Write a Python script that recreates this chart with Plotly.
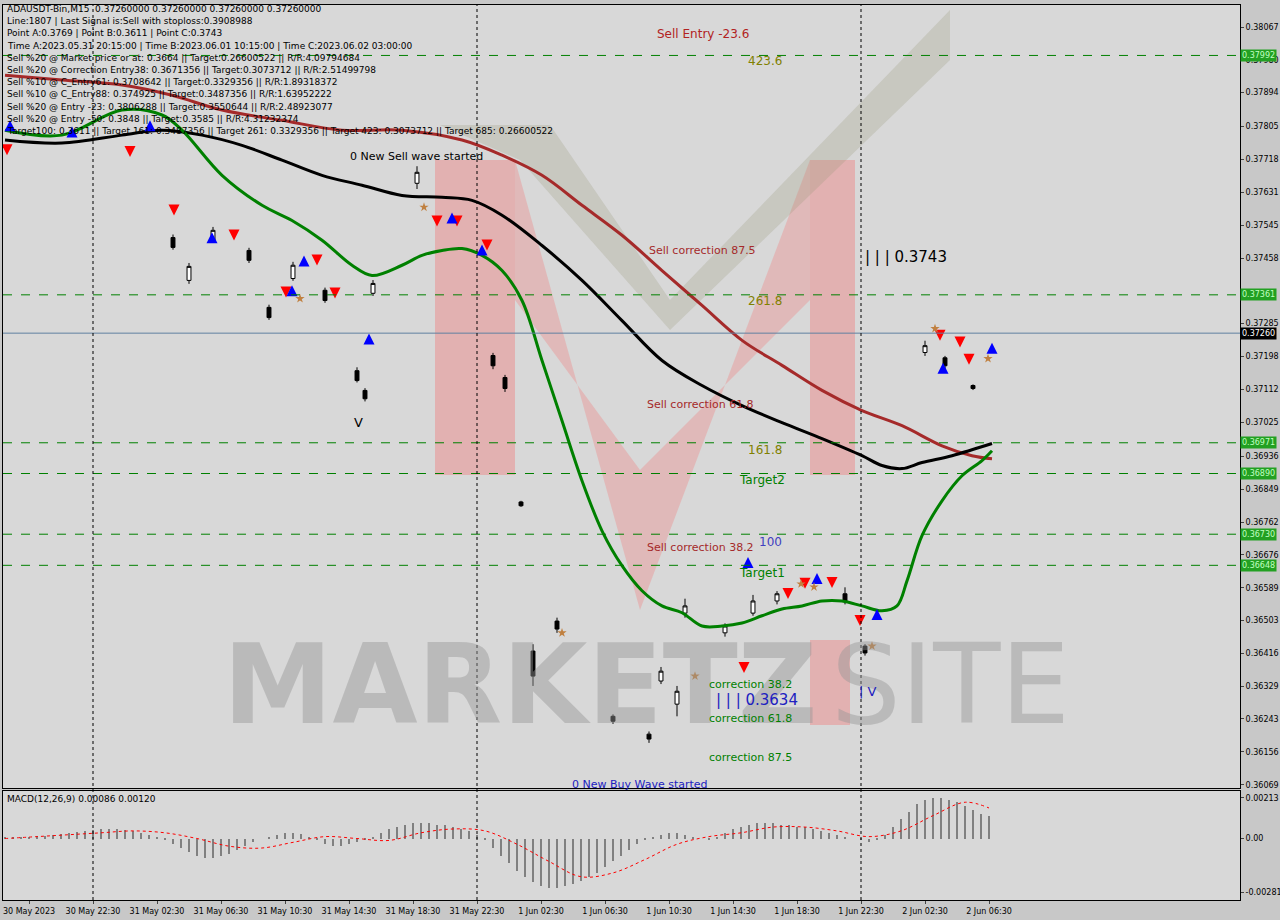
import plotly.graph_objects as go

# ---------------- data ----------------
green_x = [0,14.25,29.25,39.25,44.25,54.25,64.25,71.75,79.25,86.75,91.75,99.25,104.25,109.25,114.25,119.25,124.25,129.25,134.25,139.25,144.25,149.25,154.25,159.25,164.25,169.25,174.25,179.25,184.25,189.25,194.25,199.25,204.25,209.25,214.25,219.25,223,225.5,229.25,234.25,239.25,244.25,246.75]
green_y = [0.37795,0.37782,0.37848,0.37835,0.37795,0.37676,0.37597,0.37557,0.37505,0.37439,0.37412,0.37439,0.37465,0.37478,0.37483,0.37465,0.37425,0.37346,0.37188,0.37029,0.36871,0.36739,0.36647,0.36581,0.36541,0.36523,0.36488,0.36488,0.36496,0.36515,0.36533,0.36541,0.36554,0.36554,0.36541,0.36528,0.36541,0.36607,0.36726,0.36818,0.36884,0.36924,0.36950]
black_x = [0,14.25,29.25,39.25,49.25,59.25,69.25,79.25,89.25,99.25,109.25,116.75,124.25,134.25,144.25,154.25,164.25,174.25,184.25,194.25,204.25,214.25,219.25,224.25,229.25,236.75,246.75]
black_y = [0.37769,0.37761,0.37782,0.37795,0.37782,0.37755,0.37716,0.37676,0.37650,0.37623,0.37618,0.37610,0.37571,0.37491,0.37399,0.37293,0.37188,0.37122,0.37069,0.37024,0.36982,0.36937,0.36911,0.36903,0.36919,0.36937,0.36969]
brown_x = [0,14.25,29.25,41.75,54.25,69.25,84.25,99.25,114.25,124.25,134.25,144.25,154.25,164.25,174.25,184.25,194.25,204.25,214.25,224.25,234.25,241.75,246.75]
brown_y = [0.37940,0.37927,0.37914,0.37887,0.37848,0.37821,0.37795,0.37795,0.37769,0.37729,0.37676,0.37597,0.37518,0.37425,0.37333,0.37241,0.37175,0.37109,0.37056,0.37016,0.36963,0.36937,0.36929]

c_x = [42,46,52,61,66,72,80,88,90,92,103,122,125,129,132,138,152,161,164,168,170,180,187,193,210,215,230,235,242]
c_open = [0.37512,0.37399,0.37504,0.37478,0.37328,0.37404,0.37373,0.37161,0.37109,0.37365,0.37655,0.37201,0.37143,0.36815,0.36422,0.36501,0.36250,0.36203,0.36343,0.36282,0.36522,0.36470,0.36522,0.36554,0.36573,0.36435,0.37209,0.37195,0.37122]
c_close = [0.37486,0.37436,0.37531,0.37452,0.37301,0.37439,0.37346,0.37135,0.37087,0.37391,0.37684,0.37174,0.37114,0.36805,0.36356,0.36480,0.36237,0.36190,0.36369,0.36316,0.36541,0.36488,0.36554,0.36573,0.36554,0.36417,0.37227,0.37174,0.37114]
c_high = [0.37520,0.37445,0.37540,0.37485,0.37335,0.37448,0.37380,0.37170,0.37115,0.37400,0.37700,0.37208,0.37150,0.36818,0.36440,0.36510,0.36255,0.36210,0.36380,0.36330,0.36560,0.36495,0.36570,0.36580,0.36590,0.36440,0.37240,0.37200,0.37125]
c_low = [0.37480,0.37390,0.37498,0.37445,0.37295,0.37398,0.37340,0.37130,0.37080,0.37358,0.37640,0.37165,0.37105,0.36802,0.36330,0.36470,0.36230,0.36180,0.36335,0.36250,0.36510,0.36460,0.36515,0.36545,0.36545,0.36410,0.37200,0.37165,0.37110]

red_x = [0.5,31.25,42.25,57.25,70.25,78,82.5,108,113,120.5,184.75,195.75,200,206.75,213.75,233.75,238.75,241]
red_y = [0.37729,0.37724,0.37570,0.37504,0.37354,0.37438,0.37351,0.37541,0.37541,0.37478,0.36364,0.36559,0.36586,0.36588,0.36488,0.37240,0.37222,0.37177]
blue_x = [1.25,16.75,36.25,51.75,71.75,74.75,91,111.75,119.25,185.75,203,218,234.5,246.75]
blue_y = [0.37821,0.37805,0.37821,0.37526,0.37386,0.37465,0.37259,0.37578,0.37494,0.36670,0.36628,0.36533,0.37182,0.37235]
star_x = [104.75,73.75,172.5,199,202.25,232.5,245.75,216.75,139.25]
star_y = [0.37592,0.37351,0.36356,0.36599,0.36591,0.37272,0.37193,0.36435,0.36470]

levels = [0.37992,0.37361,0.36971,0.36890,0.36730,0.36648]
current_price = 0.37260
y_ticks = [0.38067,0.37980,0.37894,0.37805,0.37718,0.37631,0.37545,0.37458,0.37285,0.37198,0.37112,0.37025,0.36936,0.36849,0.36762,0.36676,0.36589,0.36503,0.36416,0.36329,0.36243,0.36156,0.36069]
x_tick_bars = [6,22,38,54,70,86,102,118,134,150,166,182,198,214,230,246]
x_tick_labels = ["30 May 2023","30 May 22:30","31 May 02:30","31 May 06:30","31 May 10:30","31 May 14:30","31 May 18:30","31 May 22:30","1 Jun 02:30","1 Jun 06:30","1 Jun 10:30","1 Jun 14:30","1 Jun 18:30","1 Jun 22:30","2 Jun 02:30","2 Jun 06:30"]
sep_bars = [22,118,214]

macd_hist = [0.00005,0.00008,0.0001,0.0001,0.00012,0.00015,0.0002,0.00025,0.0003,0.00035,
 0.0004,0.00045,0.0005,0.0005,0.00048,0.00045,0.0004,0.0003,0.0002,0.0001,
 -0.0001,-0.0003,-0.0005,-0.0007,-0.0009,-0.001,-0.001,-0.0009,-0.0008,-0.0006,
 -0.0004,-0.0002,0.0,0.0001,0.0002,0.0003,0.0003,0.00025,0.0001,-0.0001,
 -0.0003,-0.0004,-0.0004,-0.0003,-0.0002,-0.0001,0.0001,0.0003,0.0005,0.0006,
 0.0007,0.0008,0.0008,0.0008,0.0007,0.0007,0.0006,0.0005,0.0004,0.0002,
 -0.0001,-0.0005,-0.0009,-0.0013,-0.0017,-0.002,-0.0023,-0.0025,-0.0026,-0.0026,
 -0.0025,-0.0024,-0.0022,-0.002,-0.0018,-0.0015,-0.0012,-0.0009,-0.0006,-0.0003,
 -0.0001,0.0001,0.0002,0.0003,0.0003,0.0002,0.0001,0.0,-0.0001,0.0001,
 0.0003,0.0005,0.0006,0.0007,0.0008,0.0008,0.0008,0.0007,0.0007,0.0006,
 0.0006,0.0005,0.0004,0.0003,0.0002,0.0001,0.0,-0.0001,-0.0002,-0.0001,
 0.0002,0.0006,0.001,0.0014,0.0018,0.002,0.0021,0.0021,0.002,0.0019,
 0.0017,0.0015,0.0013,0.0012]
macd_x = list(range(0, 248, 2))
sig_x = [0,8,16,24,32,40,48,56,64,72,80,88,96,104,112,120,128,136,144,152,160,168,176,184,192,200,208,216,224,232,240,246]
sig_y = [0.0,0.0001,0.0002,0.0003,0.0004,0.0003,0.0,-0.0004,-0.0005,-0.0002,0.0001,0.0,-0.0001,0.0003,0.0005,0.0004,-0.0003,-0.0012,-0.002,-0.0018,-0.0011,-0.0003,0.0001,0.0003,0.0006,0.0006,0.0004,0.0001,0.0004,0.0012,0.0019,0.0016]

header = ["ADAUSDT-Bin,M15  0.37260000 0.37260000 0.37260000 0.37260000",
 "Line:1807 | Last Signal is:Sell with stoploss:0.3908988",
 "Point A:0.3769 | Point B:0.3611 | Point C:0.3743",
 "Time A:2023.05.31 20:15:00 | Time B:2023.06.01 10:15:00 | Time C:2023.06.02 03:00:00",
 "Sell %20 @ Market price or at: 0.3664 || Target:0.26600522 || R/R:4.09794684",
 "Sell %20 @ Correction Entry38: 0.3671356 || Target:0.3073712 || R/R:2.51499798",
 "Sell %10 @ C_Entry61: 0.3708642 || Target:0.3329356 || R/R:1.89318372",
 "Sell %10 @ C_Entry88: 0.374925 || Target:0.3487356 || R/R:1.63952222",
 "Sell %20 @ Entry -23: 0.3806288 || Target:0.3550644 || R/R:2.48923077",
 "Sell %20 @ Entry -50: 0.3848 || Target:0.3585 || R/R:4.31232374",
 "Target100: 0.3611 || Target 161: 0.3487356 || Target 261: 0.3329356 || Target 423: 0.3073712 || Target 685: 0.26600522"]

# ---------------- layout helpers ----------------
W, H = 1280, 920
L, R, T, B = 3, 40, 5, 20
def px(x, y):
    return (x - L) / (W - R - L), (H - B - y) / (H - T - B)

FONT = "DejaVu Sans"
fig = go.Figure()

fig.add_trace(go.Candlestick(x=c_x, open=c_open, high=c_high, low=c_low, close=c_close,
    increasing=dict(line=dict(color="black", width=1), fillcolor="white"),
    decreasing=dict(line=dict(color="black", width=1), fillcolor="black"),
    whiskerwidth=0, showlegend=False, xaxis="x", yaxis="y"))
fig.add_trace(go.Scatter(x=brown_x, y=brown_y, mode="lines", line=dict(color="#a52a2a", width=3, shape="spline"), showlegend=False))
fig.add_trace(go.Scatter(x=black_x, y=black_y, mode="lines", line=dict(color="black", width=3, shape="spline"), showlegend=False))
fig.add_trace(go.Scatter(x=green_x, y=green_y, mode="lines", line=dict(color="#008000", width=3, shape="spline"), showlegend=False))
fig.add_trace(go.Scatter(x=red_x, y=red_y, mode="markers", marker=dict(symbol="arrow-down", size=11, color="red"), showlegend=False))
fig.add_trace(go.Scatter(x=blue_x, y=blue_y, mode="markers", marker=dict(symbol="arrow-up", size=11, color="blue"), showlegend=False))
fig.add_trace(go.Scatter(x=star_x, y=star_y, mode="markers", marker=dict(symbol="star", size=7, color="#c08040"), showlegend=False))

fig.add_trace(go.Bar(x=macd_x, y=macd_hist, width=0.35, marker=dict(color="#808080", line=dict(width=0)), showlegend=False, xaxis="x2", yaxis="y2"))
fig.add_trace(go.Scatter(x=sig_x, y=sig_y, mode="lines", line=dict(color="red", width=1, dash="dot", shape="spline"), showlegend=False, xaxis="x2", yaxis="y2"))

shapes = []
def poly(points, color):
    path = "M " + " L ".join(f"{px(a,b)[0]},{px(a,b)[1]}" for a, b in points) + " Z"
    return dict(type="path", xref="paper", yref="paper", path=path, fillcolor=color, line=dict(width=0), layer="below")
shapes.append(poly([(435,160),(515,160),(515,475),(435,475)], "rgba(240,130,130,0.45)"))
shapes.append(poly([(810,160),(855,160),(855,475),(810,475)], "rgba(240,130,130,0.45)"))
shapes.append(poly([(515,160),(640,610),(810,160),(810,300),(640,470),(515,300)], "rgba(240,130,130,0.35)"))
shapes.append(poly([(440,125),(550,125),(670,300),(950,10),(950,60),(670,330),(520,160)], "rgba(150,150,120,0.25)"))
shapes.append(poly([(810,640),(850,640),(850,725),(810,725)], "rgba(240,130,130,0.45)"))
for lv in levels:
    shapes.append(dict(type="line", xref="paper", yref="y", x0=0, x1=1, y0=lv, y1=lv, line=dict(color="#008000", width=1, dash="dash")))
shapes.append(dict(type="line", xref="paper", yref="y", x0=0, x1=1, y0=current_price, y1=current_price, line=dict(color="#6080a0", width=1)))
for sb in sep_bars:
    shapes.append(dict(type="line", xref="x", yref="paper", x0=sb, x1=sb, y0=0, y1=1, line=dict(color="black", width=1, dash="dot")))

ann = []
def text(x, y, s, color="black", size=11, anchor="center"):
    a, b = px(x, y)
    ann.append(dict(xref="paper", yref="paper", x=a, y=b, text=s, showarrow=False, xanchor=anchor, yanchor="middle",
                    font=dict(family=FONT, size=size, color=color)))
text(520, 685, "<b>MARKETZ</b>", "rgba(150,150,150,0.45)", 110)
text(950, 685, "SITE", "rgba(150,150,150,0.45)", 110)
for i, line in enumerate(header):
    text(5, 9 + i * 12.2, line, "black", 9, "left")
text(703, 34, "Sell Entry -23.6", "#b22222", 12)
text(765, 61, "423.6", "#808000", 12)
text(416, 156, "0 New Sell wave started", "black", 11)
text(702, 250, "Sell correction 87.5", "#a52a2a", 11)
text(906, 257, "| | | 0.3743", "black", 15)
text(765, 301, "261.8", "#808000", 12)
text(700, 404, "Sell correction 61.8", "#a52a2a", 11)
text(765, 450, "161.8", "#808000", 12)
text(762, 480, "Target2", "#008000", 12)
text(700, 547, "Sell correction 38.2", "#a52a2a", 11)
text(770, 542, "100", "#4040c0", 12)
text(762, 573, "Target1", "#008000", 12)
text(750, 684, "correction 38.2", "#008000", 11)
text(757, 700, "| | | 0.3634", "#2020c0", 15)
text(750, 719, "correction 61.8", "#008000", 11)
text(750, 757, "correction 87.5", "#008000", 11)
text(640, 784, "0 New Buy Wave started", "#2020c0", 11)
text(358, 423, "V", "black", 13)
text(868, 691, "| V", "#2020c0", 13)
text(5, 799, "MACD(12,26,9) 0.00086 0.00120", "black", 9, "left")
for lv in levels:
    ann.append(dict(xref="paper", yref="y", x=1.0, y=lv, text=f"{lv:.5f}", showarrow=False, xanchor="left",
                    bgcolor="#22a022", font=dict(family=FONT, size=8, color="#c0ffc0"), borderpad=1))
ann.append(dict(xref="paper", yref="y", x=1.0, y=current_price, text=f"{current_price:.5f}", showarrow=False, xanchor="left",
                bgcolor="black", font=dict(family=FONT, size=8, color="white"), borderpad=1))

main_dom = [(H - B - 788) / (H - T - B), 1.0]
macd_dom = [0.0, (H - B - 791) / (H - T - B)]
xr = [-0.5, (W - R - L) / 4 - 0.5]
ax_common = dict(range=xr, showgrid=False, zeroline=False, showline=True, linecolor="black", mirror=True, automargin=False)
fig.update_layout(
    width=W, height=H, margin=dict(l=L, r=R, t=T, b=B, autoexpand=False),
    paper_bgcolor="#c8c8c8", plot_bgcolor="#d8d8d8",
    font=dict(family=FONT, size=8, color="black"),
    shapes=shapes, annotations=ann, bargap=0,
    xaxis=dict(**ax_common, domain=[0, 1], anchor="y", showticklabels=False, rangeslider=dict(visible=False)),
    xaxis2=dict(**ax_common, domain=[0, 1], anchor="y2", matches="x", tickmode="array", tickvals=x_tick_bars,
                ticktext=x_tick_labels, ticks="outside", ticklen=3, tickangle=0, tickfont=dict(size=8)),
    yaxis=dict(domain=main_dom, range=[0.36061, 0.38125], side="right", tickmode="array", tickvals=y_ticks,
               ticktext=[f"{v:.5f}" for v in y_ticks], ticks="outside", ticklen=3, showgrid=False, zeroline=False,
               showline=True, linecolor="black", mirror=True, anchor="x", tickfont=dict(size=8), automargin=False),
    yaxis2=dict(domain=macd_dom, range=[-0.00322, 0.00249], side="right", tickmode="array",
                tickvals=[0.00213, 0.0, -0.00281], ticktext=["0.00213", "0.00", "-0.00281"], ticks="outside", ticklen=3,
                showgrid=False, zeroline=False, showline=True, linecolor="black", mirror=True, anchor="x2",
                tickfont=dict(size=8), automargin=False),
)
fig.write_html("out.html", config={"displayModeBar": False},
               post_script="document.body.style.margin='0px';document.body.style.overflow='hidden';")
